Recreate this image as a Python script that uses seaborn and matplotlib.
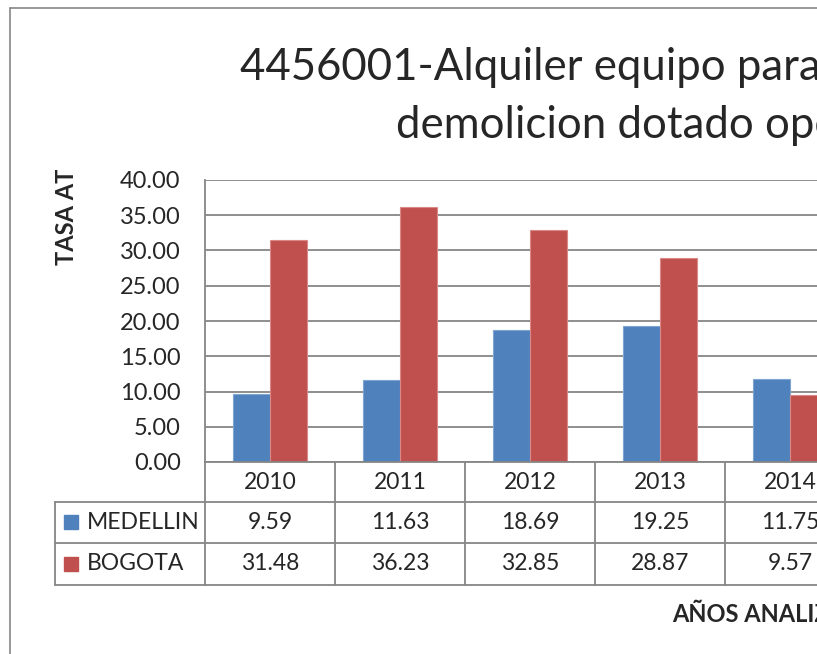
import matplotlib
matplotlib.use("Agg")
import matplotlib.pyplot as plt
import matplotlib.transforms as mtransforms
from matplotlib.lines import Line2D
import seaborn as sns
import pandas as pd

# data
years = ["2010", "2011", "2012", "2013", "2014"]
medellin = [9.59, 11.63, 18.69, 19.25, 11.75]
bogota = [31.48, 36.23, 32.85, 28.87, 9.57]
series = ["MEDELLIN", "BOGOTA"]
colors = ["#4F81BD", "#C0504D"]
edges = ["#7FA5D3", "#D98A88"]
yticks = [0, 5, 10, 15, 20, 25, 30, 35, 40]
title_lines = ["4456001-Alquiler equipo para trabajos de",
               "demolicion dotado operario"]

df = pd.DataFrame({
    "year": years * 2,
    "tasa": medellin + bogota,
    "ciudad": [series[0]] * len(years) + [series[1]] * len(years),
})

sns.set_style("white")
plt.rcParams["font.family"] = ["Lato", "DejaVu Sans"]

W, H = 817, 654
fig = plt.figure(figsize=(W / 100, H / 100), dpi=100)
ax = fig.add_axes([205 / W, 1 - 462 / H, 650 / W, 282 / H])

sns.barplot(data=df, x="year", y="tasa", hue="ciudad", palette=colors,
            saturation=1, width=0.57, ax=ax, legend=False, errorbar=None)
# lighter outline like the office style
for k, p in enumerate(ax.patches):
    p.set_edgecolor(edges[k // len(years)] if k < 2 * len(years) else "none")
    p.set_linewidth(0.8)

grid_c = "#868686"
ax.set_ylim(0, 40)
ax.set_xlim(-0.5, len(years) - 0.5)
ax.set_yticks(yticks)
ax.set_yticklabels([f"{v:.2f}" for v in yticks], fontsize=17)
ax.set_xticklabels([])
ax.tick_params(axis="x", length=0)
ax.tick_params(axis="y", length=6.5, width=1.2, color=grid_c, pad=11)
ax.set_xlabel("")
ax.set_ylabel("")
ax.yaxis.grid(True, color=grid_c, lw=1.3)
ax.set_axisbelow(True)
for s in ["top", "right"]:
    ax.spines[s].set_visible(False)
for s in ["left", "bottom"]:
    ax.spines[s].set_color(grid_c)
    ax.spines[s].set_linewidth(1.3)

# data table under the plot
trans = mtransforms.blended_transform_factory(ax.transData, ax.transAxes)
n = len(years)
row_y = [0, -0.142, -0.287, -0.436]
leg_left = -1.654
lkw = dict(color=grid_c, lw=1.3, transform=trans, clip_on=False)
for i in range(n + 1):
    ax.plot([i - 0.5, i - 0.5], [row_y[0], row_y[-1]], **lkw)
ax.plot([leg_left, leg_left], [row_y[1], row_y[-1]], **lkw)
for y in row_y[1:]:
    ax.plot([leg_left, n - 0.5], [y, y], **lkw)

for i, yr in enumerate(years):
    ax.text(i, (row_y[0] + row_y[1]) / 2, yr, ha="center", va="center",
            fontsize=16.5, transform=trans)
for r, (name, vals, c) in enumerate(zip(series, [medellin, bogota], colors)):
    yc = (row_y[r + 1] + row_y[r + 2]) / 2
    for i, v in enumerate(vals):
        ax.text(i, yc, f"{v:.2f}", ha="center", va="center", fontsize=16.5,
                transform=trans)
    ax.plot([leg_left + 0.123], [yc], marker="s", ms=10, color=c,
            transform=trans, clip_on=False)
    ax.text(leg_left + 0.246, yc, name, ha="left", va="center", fontsize=16.5,
            transform=trans)

# chart border
fig.add_artist(Line2D([10 / W, 10 / W], [0, 1 - 8 / H], transform=fig.transFigure,
                      color=grid_c, lw=1.2))
fig.add_artist(Line2D([10 / W, 1], [1 - 8 / H, 1 - 8 / H], transform=fig.transFigure,
                      color=grid_c, lw=1.2))

fig.text(240 / W, 1 - 68 / H, title_lines[0], ha="left", va="center", fontsize=31.5)
fig.text(396 / W, 1 - 125 / H, title_lines[1], ha="left", va="center", fontsize=31.5)
fig.text(67 / W, 1 - 217 / H, "TASA AT", rotation=90, fontweight="bold",
         fontsize=17, ha="center", va="center")
fig.text(672 / W, 1 - 614 / H, "AÑOS ANALIZADOS", fontweight="bold",
         fontsize=17, ha="left", va="center")

fig.savefig("out.png", dpi=100)
